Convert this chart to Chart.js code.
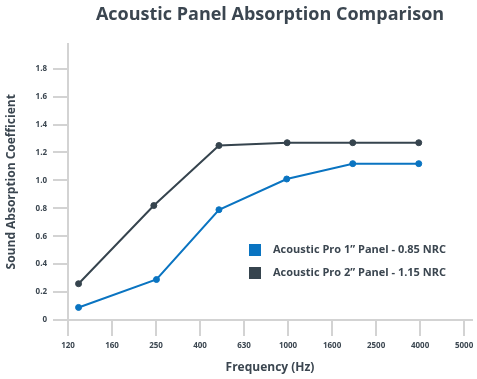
<!DOCTYPE html>
<html>
<head>
<meta charset="utf-8">
<script src="https://cdn.jsdelivr.net/npm/chart.js@4"></script>
<style>
html,body{margin:0;padding:0;background:#fff;}
#wrap{width:477px;height:379px;}
</style>
</head>
<body>
<div id="wrap"><canvas id="c" width="477" height="379"></canvas></div>
<script>
const titleText = 'Acoustic Panel Absorption Comparison';
const xTitle = 'Frequency (Hz)';
const yTitle = 'Sound Absorption Coefficient';
const xTickLabels = ['120','160','250','400','630','1000','1600','2500','4000','5000'];
const yTickValues = [0,0.2,0.4,0.6,0.8,1.0,1.2,1.4,1.6,1.8];
const seriesNames = ['Acoustic Pro 1\u201d Panel - 0.85 NRC','Acoustic Pro 2\u201d Panel - 1.15 NRC'];
// measured band positions along the (evenly spaced) frequency tick axis
const pro1X = [0.24, 2.01, 3.43, 4.97, 6.47, 7.97];
const pro2X = [0.24, 1.95, 3.43, 4.98, 6.47, 7.97];
const pro1Y = [0.09, 0.29, 0.79, 1.01, 1.12, 1.12];
const pro2Y = [0.26, 0.82, 1.25, 1.27, 1.27, 1.27];

const BLUE = '#0a74c1';
const DARK = '#36444e';
const TEXT = '#3b4650';
const GRID = '#d3d3d3';
const FONT = "'Open Sans', sans-serif";

const legendPlugin = {
  id: 'innerLegend',
  afterDatasetsDraw(chart, args, opts) {
    const ctx = chart.ctx;
    ctx.save();
    ctx.font = 'bold 11px ' + FONT;
    ctx.textBaseline = 'middle';
    chart.data.datasets.forEach((ds, i) => {
      const y = opts.y + i * opts.gap;
      ctx.fillStyle = ds.borderColor;
      ctx.fillRect(opts.x, y - 6, 12, 12);
      ctx.fillStyle = TEXT;
      ctx.fillText(ds.label, opts.x + 24, y);
    });
    ctx.restore();
  }
};

new Chart(document.getElementById('c'), {
  type: 'line',
  data: {
    datasets: [
      {label: seriesNames[0], data: pro1X.map((x,i)=>({x, y: pro1Y[i]})), borderColor: BLUE, backgroundColor: BLUE,
       pointBackgroundColor: BLUE, pointBorderColor: BLUE, borderWidth: 2, pointRadius: 3, pointBorderWidth: 1, tension: 0},
      {label: seriesNames[1], data: pro2X.map((x,i)=>({x, y: pro2Y[i]})), borderColor: DARK, backgroundColor: DARK,
       pointBackgroundColor: DARK, pointBorderColor: DARK, borderWidth: 2, pointRadius: 3, pointBorderWidth: 1, tension: 0}
    ]
  },
  options: {
    responsive: false,
    animation: false,
    devicePixelRatio: 1,
    layout: {padding: 0},
    plugins: {
      legend: {display: false},
      tooltip: {enabled: false},
      title: {display: true, text: titleText, fullSize: false, color: TEXT,
              font: {family: FONT, size: 18, weight: 'bold'}, padding: {top: 4, bottom: 18}},
      innerLegend: {x: 249, y: 250, gap: 23}
    },
    scales: {
      x: {
        type: 'linear', min: 0, max: 9.18,
        afterBuildTicks: s => { s.ticks = xTickLabels.map((_, i) => ({value: i})); },
        afterFit: s => { s.height = 59; s.paddingLeft = 0; s.paddingRight = 0; },
        ticks: {callback: (v) => xTickLabels[v], color: TEXT, padding: 5, maxRotation: 0, autoSkip: false,
                font: {family: FONT, size: 8, weight: 'bold'}},
        grid: {drawOnChartArea: false, drawTicks: true, tickLength: 16, color: GRID, lineWidth: 2},
        border: {color: GRID, width: 2},
        title: {display: true, text: xTitle, color: TEXT, font: {family: FONT, size: 12, weight: 'bold'}, padding: {top: 12}}
      },
      y: {
        type: 'linear', min: 0, max: 1.98,
        afterBuildTicks: s => { s.ticks = yTickValues.map(v => ({value: v})); },
        afterFit: s => { s.width = 68; s.paddingTop = 0; s.paddingBottom = 0; },
        ticks: {callback: v => v === 0 ? '0' : v.toFixed(1), color: TEXT, padding: 6,
                font: {family: FONT, size: 8, weight: 'bold'}},
        grid: {drawOnChartArea: false, drawTicks: true, tickLength: 15, color: GRID, lineWidth: 2},
        border: {color: GRID, width: 2},
        title: {display: true, text: yTitle, color: TEXT, font: {family: FONT, size: 12, weight: 'bold'}, padding: {bottom: 4}}
      }
    }
  },
  plugins: [legendPlugin]
});
</script>
</body>
</html>
